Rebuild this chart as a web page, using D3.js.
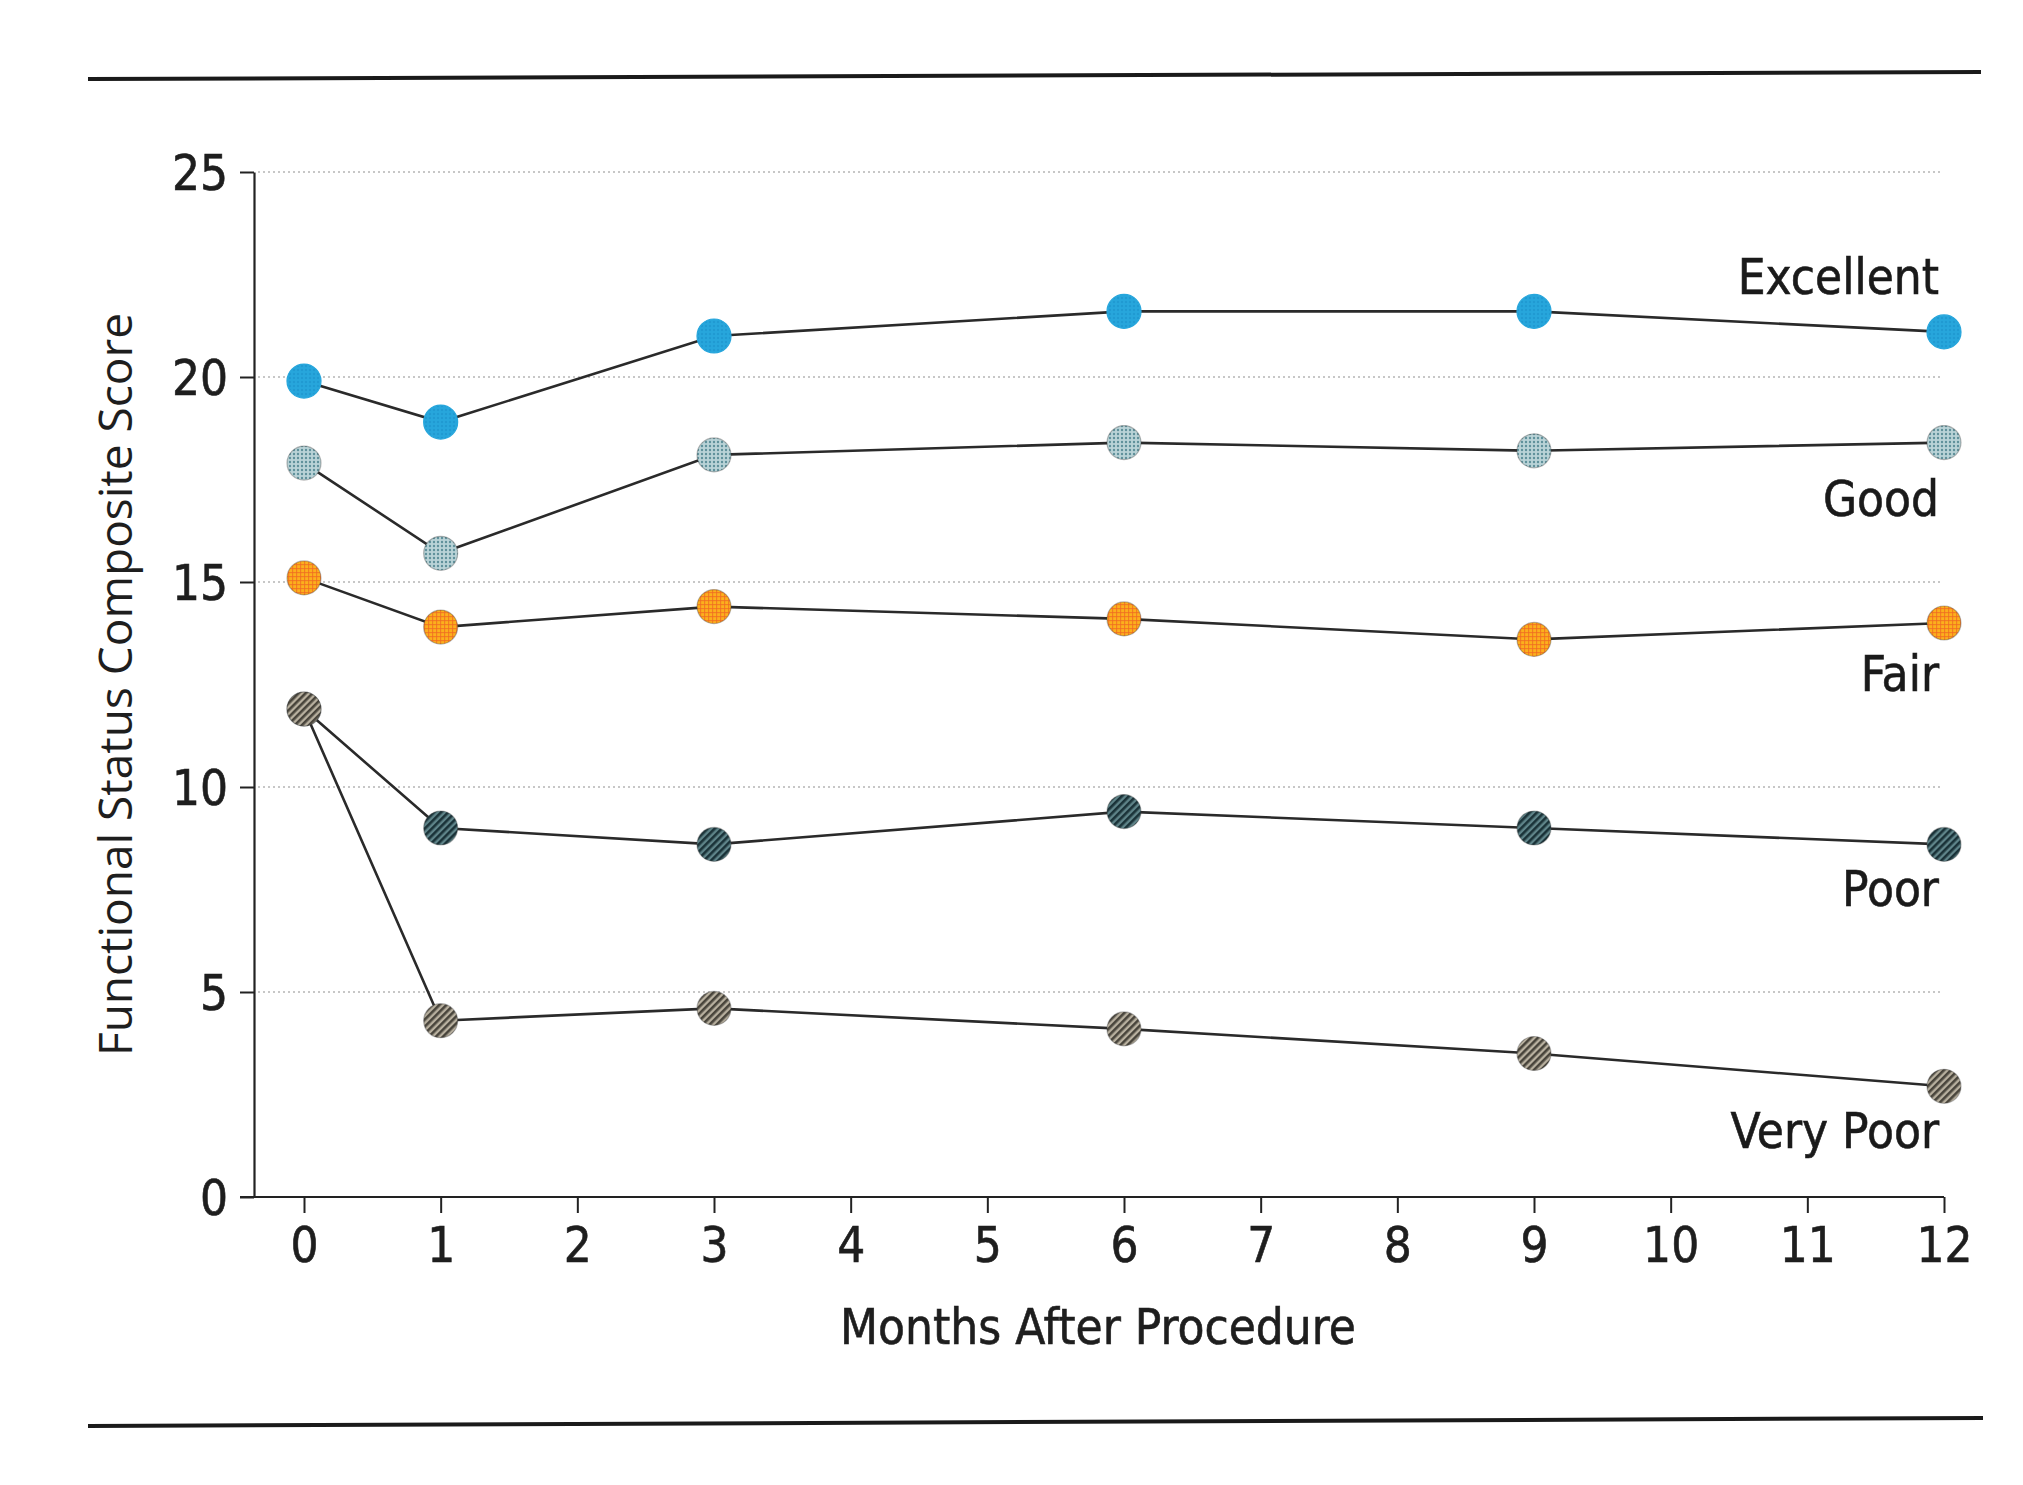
<!DOCTYPE html>
<html>
<head>
<meta charset="utf-8">
<script src="https://cdn.jsdelivr.net/npm/d3@7"></script>
<style>
  body { margin: 0; background: #fff; }
  svg { display: block; }
  .tick text { font-family: "Liberation Sans Narrow", "DejaVu Sans Condensed", "Roboto", sans-serif; }
</style>
</head>
<body>
<div id="chart"></div>
<script>
// Dades llegides del gràfic
const months = [0, 1, 3, 6, 9, 12];
const xTicks = [0, 1, 2, 3, 4, 5, 6, 7, 8, 9, 10, 11, 12];
const yTicks = [0, 5, 10, 15, 20, 25];
const seriesNames = ["Excellent", "Good", "Fair", "Poor", "Very Poor"];
const excellent = [19.9, 18.9, 21.0, 21.6, 21.6, 21.1];
const good      = [17.9, 15.7, 18.1, 18.4, 18.2, 18.4];
const fair      = [15.1, 13.9, 14.4, 14.1, 13.6, 14.0];
const poor      = [11.9, 9.0, 8.6, 9.4, 9.0, 8.6];
const veryPoor  = [11.9, 4.3, 4.6, 4.1, 3.5, 2.7];
const seriesValues = [excellent, good, fair, poor, veryPoor];

// Estil de cada sèrie (color base, textura, desplaçament de l'etiqueta)
const seriesStyle = {
    "Excellent": { base: "#27a6dc", ink: "#1f9ad2", kind: "dots", labelDy: -38 },
    "Good":      { base: "#b9d3d7", ink: "#5f919b", kind: "dots", labelDy: 73 },
    "Fair":      { base: "#fbb01c", ink: "#f06a22", kind: "grid", labelDy: 68 },
    "Poor":      { base: "#5f8489", ink: "#1a3238", kind: "hatch", labelDy: 62 },
    "Very Poor": { base: "#b8b09f", ink: "#48443b", kind: "hatch", labelDy: 62 }
};

const W = 2023, H = 1485;
const margin = { left: 304, right: W - 1944, top: 172, bottom: H - 1197 };
const axisX = 254;
const labelFont = "\"Liberation Sans Narrow\", \"DejaVu Sans Condensed\", Roboto, sans-serif";

const svg = d3.select("#chart").append("svg")
    .attr("width", W)
    .attr("height", H);

svg.append("rect").attr("width", W).attr("height", H).attr("fill", "#fff");

const x = d3.scaleLinear().domain([0, 12]).range([margin.left, W - margin.right]);
const y = d3.scaleLinear().domain([0, 25]).range([H - margin.bottom, margin.top]);

// Patrons de textura per als marcadors
const defs = svg.append("defs");
seriesNames.forEach((name, i) => {
    const s = seriesStyle[name];
    const p = defs.append("pattern")
        .attr("id", "pat" + i)
        .attr("patternUnits", "userSpaceOnUse");
    if (s.kind === "hatch") {
        p.attr("width", 5).attr("height", 5).attr("patternTransform", "rotate(45)");
        p.append("rect").attr("width", 5).attr("height", 5).attr("fill", s.base);
        p.append("rect").attr("width", 2.6).attr("height", 5).attr("fill", s.ink);
    } else if (s.kind === "grid") {
        p.attr("width", 4).attr("height", 4);
        p.append("rect").attr("width", 4).attr("height", 4).attr("fill", s.base);
        p.append("rect").attr("width", 4).attr("height", 1.2).attr("fill", s.ink).attr("opacity", 0.7);
        p.append("rect").attr("width", 1.2).attr("height", 4).attr("fill", s.ink).attr("opacity", 0.7);
    } else {
        p.attr("width", 4).attr("height", 4);
        p.append("rect").attr("width", 4).attr("height", 4).attr("fill", s.base);
        p.append("circle").attr("cx", 2).attr("cy", 2).attr("r", 1.2).attr("fill", s.ink);
    }
});

// Línies horitzontals de la capçalera i del peu
svg.append("line").attr("x1", 88).attr("x2", 1981).attr("y1", 79).attr("y2", 72)
    .attr("stroke", "#1a1a1a").attr("stroke-width", 4);
svg.append("line").attr("x1", 88).attr("x2", 1983).attr("y1", 1426).attr("y2", 1418)
    .attr("stroke", "#1a1a1a").attr("stroke-width", 4);

// Quadrícula puntejada
svg.append("g")
    .selectAll("line")
    .data(yTicks.filter(d => d > 0))
    .join("line")
    .attr("x1", axisX + 4)
    .attr("x2", 1940)
    .attr("y1", d => y(d))
    .attr("y2", d => y(d))
    .attr("stroke", "#b5b5b5")
    .attr("stroke-width", 1.3)
    .attr("stroke-dasharray", "2,3");

// Eix Y
const yAxis = svg.append("g")
    .attr("transform", `translate(${axisX},0)`)
    .call(d3.axisLeft(y).tickValues(yTicks).tickSize(14).tickPadding(12).tickSizeOuter(0));
yAxis.select(".domain").attr("stroke", "#222").attr("stroke-width", 2.2);
yAxis.selectAll(".tick line").attr("stroke", "#222").attr("stroke-width", 2);
yAxis.selectAll(".tick text")
    .attr("font-size", 49)
    .attr("fill", "#1e1e1e")
    .attr("stroke", "#1e1e1e")
    .attr("stroke-width", 0.6)
    .attr("dy", "0.36em");

// Eix X
const xAxis = svg.append("g")
    .attr("transform", `translate(0,${y(0)})`)
    .call(d3.axisBottom(x).tickValues(xTicks).tickSize(16).tickPadding(14).tickSizeOuter(0));
xAxis.select(".domain").attr("d", `M${axisX - 14},0H${x(12)}`).attr("stroke", "#222").attr("stroke-width", 2.2);
xAxis.selectAll(".tick line").attr("stroke", "#222").attr("stroke-width", 2);
xAxis.selectAll(".tick text")
    .attr("font-size", 49)
    .attr("fill", "#1e1e1e")
    .attr("stroke", "#1e1e1e")
    .attr("stroke-width", 0.6);

// Títols dels eixos
svg.append("text")
    .attr("x", 1098)
    .attr("y", 1344)
    .attr("text-anchor", "middle")
    .attr("font-family", labelFont)
    .attr("font-size", 49)
    .attr("fill", "#1e1e1e")
    .attr("stroke", "#1e1e1e")
    .attr("stroke-width", 0.6)
    .text("Months After Procedure");

svg.append("text")
    .attr("transform", `translate(132,${y(12.5)}) rotate(-90)`)
    .attr("text-anchor", "middle")
    .attr("font-family", "\"Open Sans\", \"Noto Sans\", sans-serif")
    .attr("font-size", 46)
    .attr("fill", "#1e1e1e")
    .text("Functional Status Composite Score");

// Sèries: línies, marcadors i etiquetes
const line = d3.line()
    .x((d, i) => x(months[i]))
    .y(d => y(d));

const series = svg.append("g")
    .selectAll("g")
    .data(seriesNames.map((name, i) => ({ name, i, values: seriesValues[i] })))
    .join("g");

series.append("path")
    .attr("d", d => line(d.values))
    .attr("fill", "none")
    .attr("stroke", "#2a2a2a")
    .attr("stroke-width", 2.6);

series.selectAll("circle")
    .data(d => d.values.map((v, j) => ({ v, j, i: d.i, name: d.name })))
    .join("circle")
    .attr("cx", d => x(months[d.j]))
    .attr("cy", d => y(d.v))
    .attr("r", 17)
    .attr("fill", d => `url(#pat${d.i})`)
    .attr("stroke", d => d.name === "Excellent" ? "#27a6dc" : "rgba(60,60,60,0.35)")
    .attr("stroke-width", 1.2);

series.append("text")
    .attr("x", 1939)
    .attr("y", d => y(d.values[d.values.length - 1]) + seriesStyle[d.name].labelDy)
    .attr("text-anchor", "end")
    .attr("font-family", labelFont)
    .attr("font-size", 49)
    .attr("fill", "#1a1a1a")
    .attr("stroke", "#1a1a1a")
    .attr("stroke-width", 0.6)
    .text(d => d.name);
</script>
</body>
</html>
